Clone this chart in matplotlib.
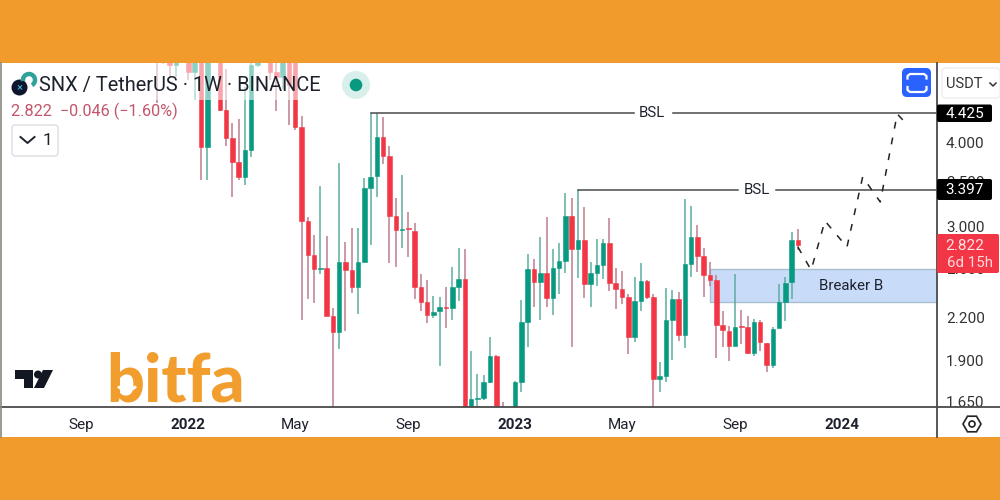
import matplotlib
matplotlib.use("Agg")
import matplotlib.pyplot as plt
from matplotlib.patches import Rectangle, FancyBboxPatch, Circle, Polygon, RegularPolygon, Arc

plt.rcParams['font.family'] = ['Roboto', 'DejaVu Sans']

# weekly OHLC, index 0 = first partly visible candle
opens = [5.6,5.6,5.5,5.213,5.6,5.5,5.090,5.4,3.941,5.6,5.6,4.471,4.063,3.744,3.557,3.900,5.213,5.6,5.5,5.090,
         5.003,5.5,5.3,4.219,3.061,2.725,2.598,2.607,2.214,2.096,2.661,2.589,2.444,2.661,3.426,3.570,4.078,3.821,3.114,2.968,
         2.985,2.958,2.444,2.321,2.221,2.251,2.282,2.274,2.444,2.511,1.58,1.666,1.672,1.767,1.931,1.58,1.58,1.58,1.767,2.169,
         2.598,2.485,2.563,2.354,2.607,2.670,3.114,2.781,2.869,2.468,2.563,2.634,2.840,2.477,2.427,2.362,2.061,2.329,2.493,2.362,
         1.785,1.803,2.183,2.346,2.075,2.643,2.898,2.716,2.545,2.502,2.147,2.103,1.998,2.140,2.132,1.950,2.169,2.018,1.872,2.125,
         2.321,2.485,2.869]
highs = [5.8,5.8,5.6,5.6,5.8,5.7,5.7,5.6,5.6,5.9,5.8,5.142,4.277,4.336,4.83,5.4,5.5,5.8,5.6,5.3,
         5.6,5.7,5.5,4.380,3.103,2.918,3.450,2.908,2.274,3.731,2.849,2.990,2.990,3.545,4.425,4.425,4.365,3.954,3.312,3.58,
         3.157,3.040,2.554,2.502,2.369,2.362,2.444,2.616,2.791,2.781,1.963,1.815,1.809,2.061,1.937,1.650,1.6,1.773,2.337,2.735,
         2.688,2.898,3.103,2.781,2.840,3.368,3.312,3.397,3.213,2.661,2.878,2.878,3.092,2.607,2.580,2.386,2.528,2.652,2.502,2.386,
         1.891,2.435,2.418,2.402,3.300,3.224,3.020,2.791,2.661,2.545,2.251,2.140,2.554,2.259,2.214,2.191,2.183,2.018,2.132,2.468,
         2.528,2.943,2.978]
lows = [4.579,5.225,5.003,5.003,5.4,4.953,4.626,3.521,3.521,5.35,4.456,3.954,3.323,3.521,3.461,3.808,5.18,5.4,4.953,4.455,
        4.8,4.248,4.176,2.183,2.346,2.313,2.554,2.214,1.6,1.977,2.103,2.394,2.229,2.661,2.820,3.323,3.718,2.652,2.616,2.791,
        2.707,2.346,2.251,2.161,2.199,1.866,2.125,2.183,2.329,1.5,1.5,1.58,1.661,1.761,1.5,1.5,1.5,1.5,1.707,1.991,
        2.282,2.183,2.282,2.221,2.386,2.563,1.991,2.519,2.354,2.282,2.452,2.511,2.410,2.267,2.305,1.944,2.025,2.251,2.346,1.6,
        1.707,1.767,1.904,2.032,1.984,2.528,2.571,2.362,2.452,1.917,1.991,1.898,1.998,2.011,1.944,1.931,1.963,1.828,1.853,2.125,
        2.176,2.346,2.772]
closes = [5.4,5.3,5.213,5.4,5.5,5.090,5.4,3.941,5.5,5.8,4.471,4.063,3.744,3.557,3.900,5.213,5.3,5.5,5.090,5.003,
          5.5,4.87,4.219,3.061,2.725,2.598,2.607,2.214,2.096,2.661,2.589,2.444,2.661,3.426,3.557,4.078,3.821,3.114,2.968,2.978,
          2.975,2.444,2.321,2.221,2.244,2.282,2.274,2.444,2.511,1.58,1.666,1.672,1.767,1.931,1.58,1.55,1.55,1.767,2.169,2.598,
          2.485,2.563,2.354,2.607,2.670,3.114,2.781,2.869,2.468,2.563,2.634,2.840,2.477,2.427,2.362,2.061,2.329,2.493,2.362,1.785,
          1.803,2.183,2.346,2.075,2.643,2.898,2.716,2.545,2.502,2.147,2.110,1.998,2.132,2.132,1.950,2.169,2.025,1.872,2.118,2.321,
          2.477,2.869,2.822]

price_ticks = [1.65, 1.9, 2.2, 2.6, 3.0, 3.5, 4.0]
price_labels = ["1.650", "1.900", "2.200", "2.600", "3.000", "3.500", "4.000"]
time_ticks = [-12, 5, 22, 40, 57, 74, 92, 109]
time_labels = ["Sep", "2022", "May", "Sep", "2023", "May", "Sep", "2024"]
bold_labels = {"2022", "2023", "2024"}

bsl_high, bsl_low = 4.425, 3.397
breaker_top, breaker_bottom = 2.598, 2.321
path_x = [102, 104.1, 106.3, 109.8, 112.3, 115.1, 117.8, 118.7]
path_y = [2.80, 2.589, 3.061, 2.80, 3.557, 3.266, 4.41, 4.321]

RED, GREEN = "#F23645", "#089981"
RED_W, GREEN_W = "#BE7D8E", "#5BAD9E"
ORANGE = "#F09B2C"
LINE = "#4A4A4A"
TEXT = "#1E222D"

fig = plt.figure(figsize=(10, 5), dpi=100, facecolor="white")
ax = fig.add_axes([0, 93/500, 937/1000, 344/500])
ax.set_yscale("log")
ax.set_xlim(-24.98, 124.13)
ax.set_ylim(1.622, 5.248)
for s in ax.spines.values():
    s.set_visible(False)

xs = list(range(len(opens)))
up = [c >= o for o, c in zip(opens, closes)]
ax.vlines(xs, lows, highs, colors=[GREEN_W if u else RED_W for u in up], lw=1.1, zorder=2)
bottoms = [min(o, c) for o, c in zip(opens, closes)]
heights = [abs(o - c) for o, c in zip(opens, closes)]
cols = [GREEN if u else RED for u in up]
ax.bar(xs, heights, bottom=bottoms, width=0.72, color=cols, edgecolor=cols, lw=0.4, zorder=3)

# annotations
ax.add_patch(Rectangle((88, breaker_bottom), 40, breaker_top - breaker_bottom,
                       facecolor="#C8DCFA", edgecolor="#A9BFD0", lw=1, zorder=1))
ax.text(110.5, 2.45, "Breaker B", ha="center", va="center", fontsize=10.8, color=TEXT, zorder=6)
ax.plot([34, 75.9], [bsl_high] * 2, color=LINE, lw=1.1, zorder=4)
ax.plot([82.1, 125], [bsl_high] * 2, color=LINE, lw=1.1, zorder=4)
ax.text(78.8, bsl_high, "BSL", ha="center", va="center", fontsize=10.8, color=TEXT)
ax.plot([67, 92.5], [bsl_low] * 2, color=LINE, lw=1.1, zorder=4)
ax.plot([98.5, 125], [bsl_low] * 2, color=LINE, lw=1.1, zorder=4)
ax.text(95.5, bsl_low, "BSL", ha="center", va="center", fontsize=10.8, color=TEXT)
ax.plot(path_x, path_y, color="#222222", lw=1.1, ls=(0, (4.5, 6)), zorder=5)

ax.set_yticks(price_ticks)
ax.set_yticklabels(price_labels)
ax.minorticks_off()
ax.yaxis.tick_right()
ax.tick_params(axis="y", length=0, pad=6.4, labelsize=11, labelcolor="#333333")
ax.set_xticks(time_ticks)
ax.set_xticklabels(time_labels)
ax.tick_params(axis="x", length=0, pad=8, labelsize=11, labelcolor=TEXT)
for lab in ax.get_xticklabels():
    if lab.get_text() in bold_labels:
        lab.set_fontweight("bold")

# chrome in pixel coordinates
ov = fig.add_axes([0, 0, 1, 1], facecolor="none")
ov.set_xlim(0, 1000)
ov.set_ylim(500, 0)
ov.axis("off")
ov.add_patch(Rectangle((0, 63), 338, 37, facecolor="white", alpha=0.55, lw=0, zorder=1))
ov.add_patch(Rectangle((0, 0), 1000, 63, facecolor=ORANGE, lw=0, zorder=2))
ov.add_patch(Rectangle((0, 437), 1000, 63, facecolor=ORANGE, lw=0, zorder=2))
ov.plot([0, 1000], [407, 407], color=LINE, lw=1.3, zorder=3)
ov.plot([937, 937], [63, 437], color=LINE, lw=1.3, zorder=3)
ov.plot([0.7, 0.7], [63, 437], color="#8A8A80", lw=1.2, zorder=3)

# header
ov.add_patch(Circle((19.5, 87.5), 8, facecolor="#10152E", lw=0, zorder=4))
ov.add_patch(Arc((29, 80), 12, 12, theta1=170, theta2=60, color="#2FA39A", lw=3.2, zorder=4))
ov.text(19.5, 87.5, "×", color="#33C6E0", fontsize=8, ha="center", va="center", zorder=5)
ov.text(39, 85, "SNX / TetherUS · 1W · BINANCE", fontsize=14.45, color=TEXT, va="center", zorder=5)
ov.text(11, 111, "2.822  −0.046 (−1.60%)", fontsize=11.7, color="#C2566B", va="center", zorder=5)
ov.add_patch(FancyBboxPatch((12, 125), 46, 31, boxstyle="round,pad=0,rounding_size=3",
                            facecolor="white", edgecolor="#DDDDDD", lw=1, zorder=4))
ov.plot([20.5, 27.5, 34.5], [137, 143, 137], color=TEXT, lw=1.4, zorder=5)
ov.text(47, 140.5, "1", fontsize=12.5, color=TEXT, ha="center", va="center", zorder=5)
ov.add_patch(Circle((356, 85), 14, facecolor="#D9EFEC", lw=0, zorder=4))
ov.add_patch(Circle((356, 85), 6.3, facecolor=GREEN, lw=0, zorder=5))

# blue button and currency box
ov.add_patch(FancyBboxPatch((902, 68), 29, 29, boxstyle="round,pad=0,rounding_size=5",
                            facecolor="#2962FF", lw=0, zorder=4))
ov.plot([907.5, 907.5, 910, 924, 926.5, 926.5], [78.5, 76, 74, 74, 76, 78.5], color="white", lw=1.6, zorder=5)
ov.plot([907.5, 907.5, 910, 924, 926.5, 926.5], [87, 90, 92, 92, 90, 87], color="white", lw=1.6, zorder=5)
ov.add_patch(FancyBboxPatch((942, 68), 58, 30, boxstyle="round,pad=0,rounding_size=4",
                            facecolor="white", edgecolor="#EEEEEE", lw=1, zorder=4))
ov.text(946, 84, "USDT", fontsize=10.5, color="#333333", va="center", zorder=5)
ov.plot([990, 993, 996], [83, 86, 83], color="#333333", lw=1.1, zorder=5)

# price tags
tags = [(104.5, 122, 992, "#000000"), (179, 200, 992, "#000000")]
for y0, y1, x1, c in tags:
    ov.add_patch(FancyBboxPatch((937, y0), x1 - 937, y1 - y0, boxstyle="round,pad=0,rounding_size=2",
                                facecolor=c, lw=0, zorder=4))
ov.text(965, 113.5, "4.425", color="white", fontsize=11, ha="center", va="center", zorder=5)
ov.text(965, 190, "3.397", color="white", fontsize=11, ha="center", va="center", zorder=5)
ov.add_patch(FancyBboxPatch((937, 234), 62, 39, boxstyle="round,pad=0,rounding_size=2",
                            facecolor=RED, lw=0, zorder=4))
ov.text(965, 246, "2.822", color="#FFE4E6", fontsize=11, ha="center", va="center", zorder=5)
ov.text(970, 263, "6d 15h", color="#FFD9DD", fontsize=10.8, ha="center", va="center", zorder=5)

# settings glyph
ov.add_patch(RegularPolygon((972, 424), 6, radius=9, orientation=0.5236, fill=False, edgecolor="#222222", lw=1.2, zorder=4))
ov.add_patch(Circle((972, 424), 3, fill=False, edgecolor="#222222", lw=1.2, zorder=4))

# TradingView mark
ov.add_patch(Polygon([(15, 370), (33, 370), (33, 388), (24, 388), (24, 379), (15, 379)], facecolor="#131722", lw=0, zorder=4))
ov.add_patch(Circle((38, 374.5), 4, facecolor="#131722", lw=0, zorder=4))
ov.add_patch(Polygon([(43, 370), (53, 370), (44, 388), (34, 388)], facecolor="#131722", lw=0, zorder=4))

# bitfa logo
ov.text(106, 401.5, "bitfa", fontsize=48, fontweight="black", family="Lato", color="#F19E2E", va="baseline", zorder=4)
ov.add_patch(Arc((127, 383), 20, 14, theta1=20, theta2=160, color="white", lw=2, zorder=5))

fig.savefig("out.png", dpi=100)
